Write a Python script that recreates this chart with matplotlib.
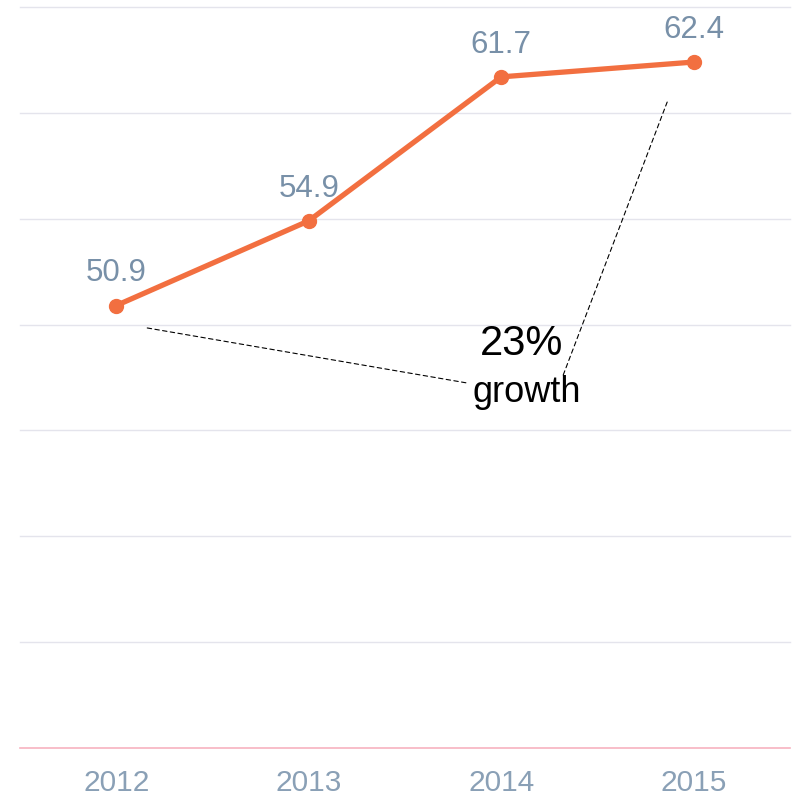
import matplotlib
matplotlib.use("Agg")
import matplotlib.pyplot as plt

years = ["2012", "2013", "2014", "2015"]
values = [50.9, 54.9, 61.7, 62.4]
labels = ["50.9", "54.9", "61.7", "62.4"]
yticks = [30, 35, 40, 45, 50, 55, 60, 65]
growth_pct = "23%"
growth_word = "growth"

plt.rcParams['font.family'] = ['Liberation Sans', 'DejaVu Sans']

fig = plt.figure(figsize=(7.92, 7.96), dpi=100)
ax = fig.add_axes([20/792, (796-748)/796, 770/792, 741/796])

x = list(range(len(years)))
ax.set_xlim(-0.5, len(years) - 0.5)
ax.set_ylim(30, 65)

for t in yticks[1:]:
    ax.axhline(t, color="#e4e4ec", lw=1.0, zorder=0, clip_on=False)
ax.axhline(30, color="#f7b3c0", lw=1.2, zorder=1, clip_on=False)

ax.plot(x, values, color="#f26f40", lw=3.8, marker="o", markersize=10,
        solid_capstyle="round", zorder=3)

for xi, v, lab in zip(x, values, labels):
    ax.annotate(lab, (xi, v), xytext=(0, 17.5), textcoords="offset points",
                ha="center", va="baseline", fontsize=22.5, color="#7890a8")

dash = dict(arrowstyle="-", linestyle=(0, (4, 3)), color="black", lw=0.8,
            shrinkA=0, shrinkB=0)
ax.annotate("", xy=(1.823, 47.24), xytext=(0.161, 49.84), arrowprops=dash)
ax.annotate("", xy=(2.862, 60.51), xytext=(2.322, 47.62), arrowprops=dash)

ax.text(2.104, 48.56, growth_pct, ha="center", va="baseline", fontsize=30,
        color="black")
ax.text(2.135, 46.34, growth_word, ha="center", va="baseline", fontsize=26,
        color="black")

ax.set_xticks(x)
ax.set_xticklabels(years, fontsize=21.5, color="#8aa0b6")
ax.tick_params(axis="x", length=0, pad=15)
ax.set_yticks([])
for s in ax.spines.values():
    s.set_visible(False)

fig.savefig("out.png", dpi=100)
